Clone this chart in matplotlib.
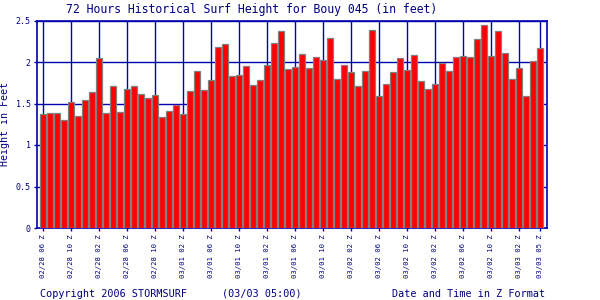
import numpy as np
import matplotlib.pyplot as plt

# surf height per hour, feet (02/28 06Z .. 03/03 05Z)
heights = [1.37, 1.39, 1.38, 1.30, 1.52, 1.35, 1.54, 1.64, 2.05, 1.38,
           1.71, 1.40, 1.67, 1.71, 1.61, 1.57, 1.60, 1.34, 1.41, 1.48,
           1.37, 1.65, 1.89, 1.66, 1.78, 2.18, 2.22, 1.83, 1.84, 1.95,
           1.72, 1.78, 1.96, 2.23, 2.37, 1.91, 1.94, 2.10, 1.93, 2.06,
           2.02, 2.29, 1.79, 1.96, 1.88, 1.71, 1.89, 2.39, 1.59, 1.73,
           1.88, 2.05, 1.90, 2.08, 1.77, 1.67, 1.73, 1.99, 1.89, 2.06,
           2.07, 2.06, 2.28, 2.44, 2.07, 2.37, 2.11, 1.80, 1.93, 1.59,
           2.01, 2.17]

tick_idx = [0, 4, 8, 12, 16, 20, 24, 28, 32, 36, 40, 44, 48, 52, 56, 60, 64, 68, 71]
tick_labels = ["02/28 06 Z", "02/28 10 Z", "02/28 02 Z", "02/28 06 Z", "02/28 10 Z",
               "03/01 02 Z", "03/01 06 Z", "03/01 10 Z", "03/01 02 Z", "03/01 06 Z",
               "03/01 10 Z", "03/02 02 Z", "03/02 06 Z", "03/02 10 Z", "03/02 02 Z",
               "03/02 06 Z", "03/02 10 Z", "03/03 02 Z", "03/03 05 Z"]
y_ticks = [0, 0.5, 1, 1.5, 2, 2.5]
y_tick_labels = ["0", "0.5", "1", "1.5", "2", "2.5"]

navy = '#000080'
blue = '#0000b0'
mono = 'DejaVu Sans Mono'

fig = plt.figure(figsize=(6, 3), dpi=100)
ax = fig.add_axes([37 / 600, 1 - 228 / 300, 510 / 600, 207.5 / 300])

x = np.arange(len(heights))
ax.bar(x, heights, width=0.86, color='#ff0000', edgecolor='#808080', linewidth=0.9, zorder=3)

ax.set_xlim(-0.9, 71.96)
ax.set_ylim(0, 2.5)
ax.set_xticks(tick_idx)
ax.set_xticklabels(tick_labels, rotation=90, fontsize=5.2, family=mono, color=navy)
ax.set_yticks(y_ticks)
ax.set_yticklabels(y_tick_labels, fontsize=6, family=mono, color=navy)
ax.tick_params(axis='both', direction='out', length=2.5, width=1, color=blue, pad=2)

ax.grid(True, color=blue, linewidth=1, zorder=1)
ax.set_axisbelow(True)
for s in ax.spines.values():
    s.set_color(blue)
    s.set_linewidth(1.2)

ax.set_ylabel("Height in Feet", fontsize=7.2, family=mono, color=navy, labelpad=4)

fig.text(66 / 600, 1 - 9 / 300, "72 Hours Historical Surf Height for Bouy 045 (in feet)",
         fontsize=8.3, family=mono, color=navy, ha='left', va='center')
fig.text(40 / 600, 1 - 294 / 300, "Copyright 2006 STORMSURF", fontsize=7.3,
         family=mono, color=navy, ha='left', va='center')
fig.text(222 / 600, 1 - 294 / 300, "(03/03 05:00)", fontsize=7.3,
         family=mono, color=navy, ha='left', va='center')
fig.text(545 / 600, 1 - 294 / 300, "Date and Time in Z Format", fontsize=7.3,
         family=mono, color=navy, ha='right', va='center')

fig.savefig('out.png', dpi=100)
